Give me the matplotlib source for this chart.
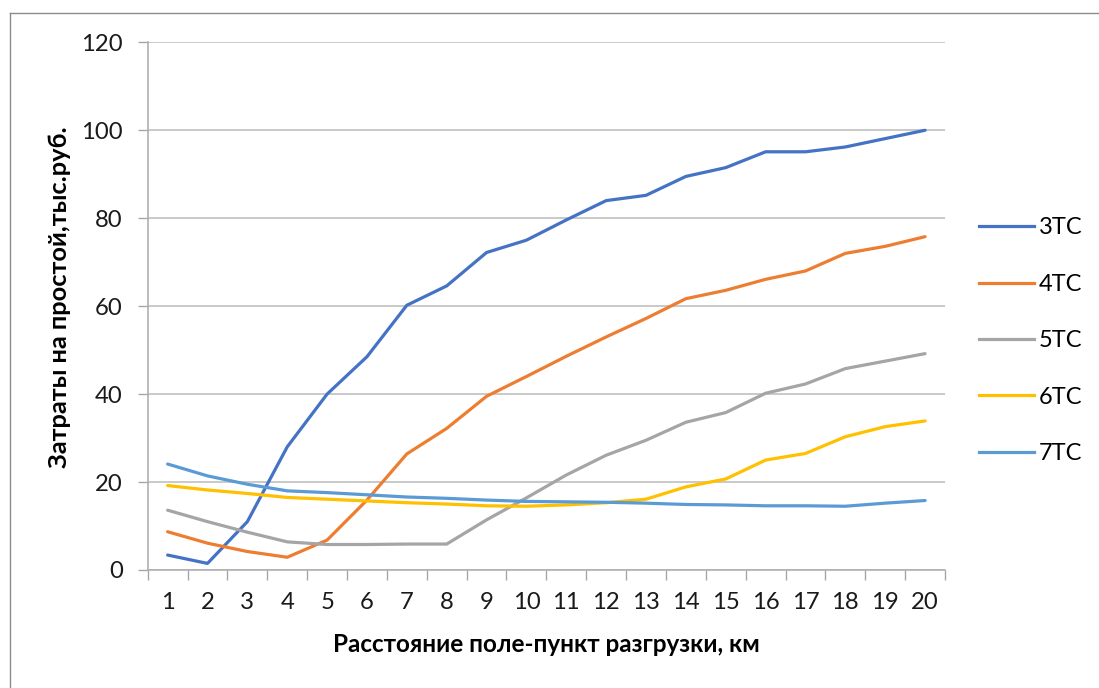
import matplotlib
matplotlib.use("Agg")
import matplotlib.pyplot as plt
from matplotlib.lines import Line2D

plt.rcParams['font.family'] = ['Lato', 'DejaVu Sans']

distance = list(range(1, 21))
tc3 = [3.4, 1.5, 11.0, 28.0, 40.0, 48.5, 60.2, 64.6, 72.2, 75.0, 79.6, 84.0, 85.2, 89.5, 91.5, 95.1, 95.1, 96.2, 98.1, 100.0]
tc4 = [8.7, 6.1, 4.2, 2.9, 6.8, 15.9, 26.4, 32.2, 39.5, 44.0, 48.6, 53.0, 57.2, 61.7, 63.6, 66.1, 68.0, 72.0, 73.6, 75.8]
tc5 = [13.6, 11.0, 8.6, 6.4, 5.8, 5.8, 5.9, 5.9, 11.4, 16.4, 21.6, 26.1, 29.5, 33.6, 35.8, 40.2, 42.3, 45.8, 47.5, 49.2]
tc6 = [19.2, 18.2, 17.4, 16.5, 16.1, 15.7, 15.3, 15.0, 14.6, 14.5, 14.8, 15.3, 16.1, 18.9, 20.7, 25.0, 26.5, 30.3, 32.6, 33.9]
tc7 = [24.1, 21.4, 19.5, 18.0, 17.6, 17.1, 16.6, 16.3, 15.9, 15.6, 15.5, 15.4, 15.2, 14.9, 14.8, 14.6, 14.6, 14.5, 15.2, 15.8]
series_names = ['3ТС', '4ТС', '5ТС', '6ТС', '7ТС']
series_colors = ['#4472C4', '#ED7D31', '#A5A5A5', '#FFC000', '#5B9BD5']
y_ticks = [0, 20, 40, 60, 80, 100, 120]
x_label = 'Расстояние поле-пункт разгрузки, км'
y_label = 'Затраты на простой,тыс.руб.'

W, H = 1099, 688
fig = plt.figure(figsize=(W / 100, H / 100), dpi=100)
ax = fig.add_axes([147.7 / W, 1 - 570 / H, (945 - 147.7) / W, (570 - 42.3) / H])

for vals, name, col in zip([tc3, tc4, tc5, tc6, tc7], series_names, series_colors):
    ax.plot(distance, vals, color=col, lw=2.3, label=name, solid_joinstyle='round', solid_capstyle='round')

ax.set_xlim(0.5, 20.5)
ax.set_ylim(0, 120)
ax.set_yticks(y_ticks)
ax.set_yticklabels([str(v) for v in y_ticks], fontsize=17.2, color='#1a1a1a')
ax.set_xticks(distance)
ax.set_xticklabels([str(d) for d in distance], fontsize=17.2, color='#1a1a1a')
ax.set_xticks([d - 0.5 for d in distance] + [20.5], minor=True)
ax.tick_params(axis='x', which='major', length=0, pad=16)
ax.tick_params(axis='x', which='minor', length=7, width=1, color='#A6A6A6', direction='out')
ax.tick_params(axis='y', length=7, width=1, color='#A6A6A6', direction='out', pad=11)

ax.grid(axis='y', color='#C0C0C0', lw=1.2)
ax.set_axisbelow(True)
for s in ['top', 'right']:
    ax.spines[s].set_visible(False)
ax.spines['left'].set_color('#B0B0B0')
ax.spines['bottom'].set_color('#B0B0B0')
ax.spines['left'].set_linewidth(1.2)
ax.spines['bottom'].set_linewidth(1.2)

fig.text(0.5 * (333 + 760) / W, 1 - 645 / H, x_label, fontsize=17.5, fontweight='bold',
         ha='center', va='center', color='#000000')
fig.text(60 / W, 1 - 297 / H, y_label, fontsize=18.3, fontweight='bold',
         ha='center', va='center', rotation=90, color='#000000')

handles = [Line2D([0], [0], color=c, lw=2.3) for c in series_colors]
leg = fig.legend(handles, series_names, loc='upper left', bbox_to_anchor=(970 / W, 1 - 208 / H),
                 frameon=False, fontsize=17, handlelength=2.33, handletextpad=0.2,
                 labelspacing=1.5, borderaxespad=0)

# chart area border (top and left visible in reference)
fig.add_artist(Line2D([10 / W, 1.0], [1 - 12.5 / H, 1 - 12.5 / H], color='#8C8C8C', lw=1.0,
                      transform=fig.transFigure))
fig.add_artist(Line2D([10 / W, 10 / W], [0, 1 - 12.5 / H], color='#8C8C8C', lw=1.0,
                      transform=fig.transFigure))

fig.savefig('out.png', dpi=100, facecolor='white')
